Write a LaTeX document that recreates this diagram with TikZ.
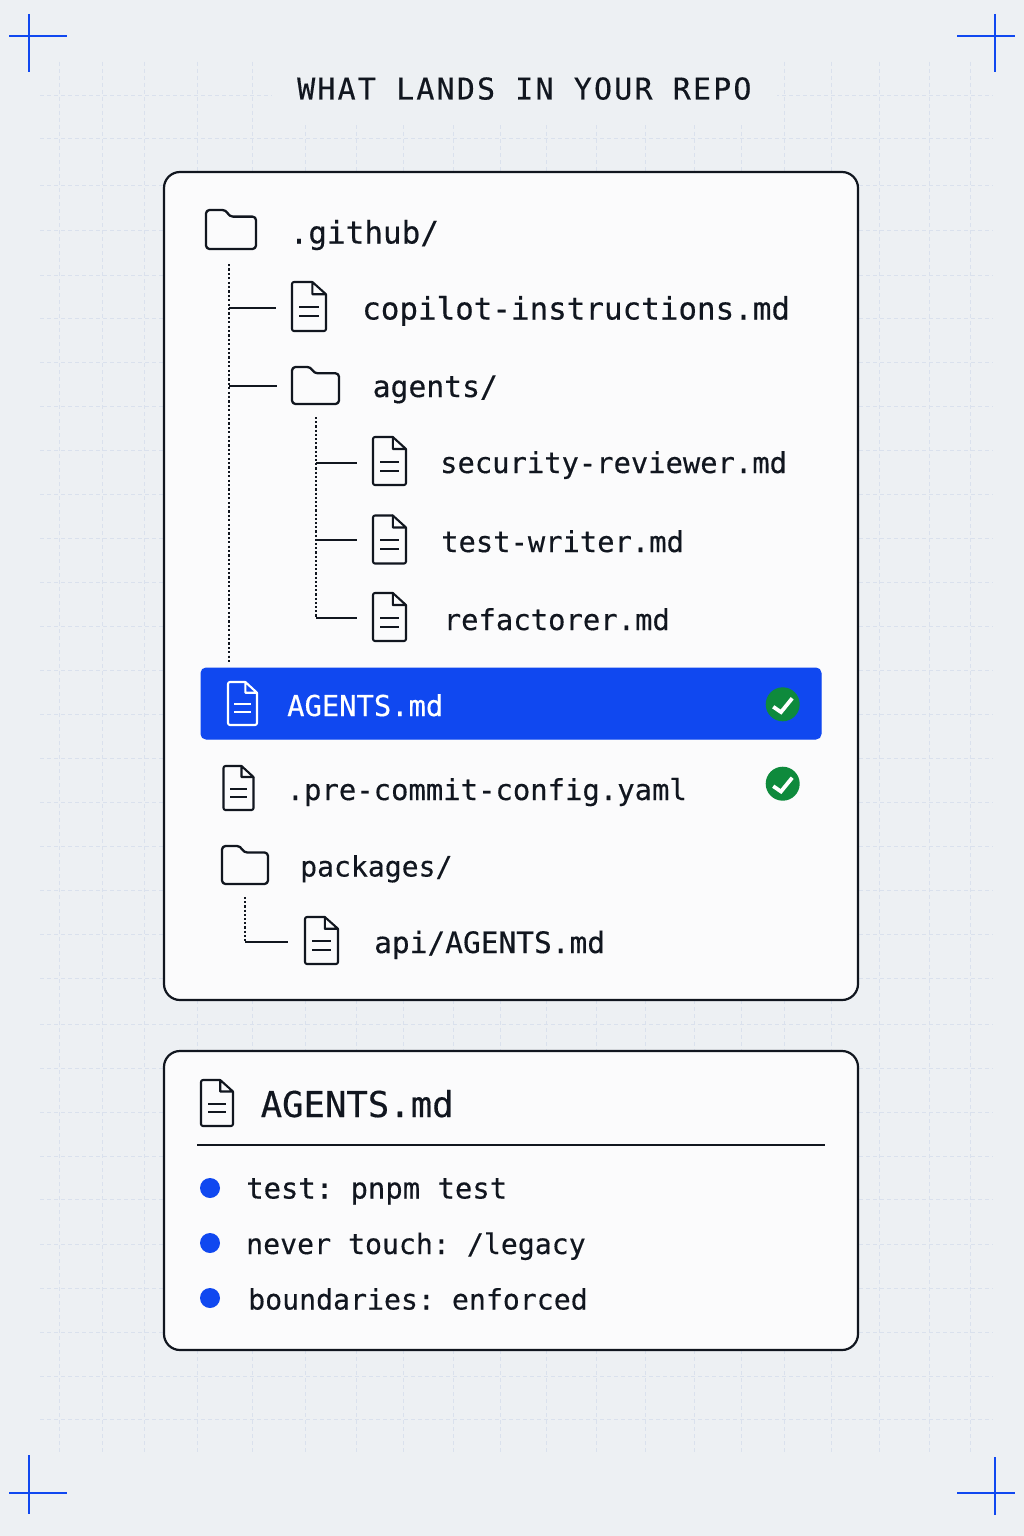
\documentclass[tikz,border=0pt]{standalone}
\usepackage{fontspec}
\setmainfont[FakeBold=0.35]{DejaVu Sans Mono}
\usetikzlibrary{positioning, calc}
\newcommand{\monosize}[1]{\fontsize{#1}{#1}\selectfont\frenchspacing}
\definecolor{pagebg}{HTML}{EDF0F3}
\definecolor{gridcol}{HTML}{DAE1ED}
\definecolor{panelbg}{HTML}{FBFBFC}
\definecolor{ink}{HTML}{11161F}
\definecolor{accent}{HTML}{1048F0}
\definecolor{okgreen}{HTML}{0E8A3C}
\tikzset{
	gridline/.style = {gridcol, line width=1pt, dash pattern=on 4pt off 3pt},
	markline/.style = {accent, line width=2.6pt},
	panel/.style = {draw=ink, fill=panelbg, line width=2.2pt, rounded corners=16pt},
	lbl/.style = {anchor=base west, inner sep=0pt, text=ink},
	trunk/.style = {ink, line width=1.9pt, dash pattern=on 2.2pt off 2.2pt},
	subtrunk/.style = {ink, line width=1.4pt, dash pattern=on 2.2pt off 2pt},
	branch/.style = {ink, line width=2pt},
	bullet/.style = {circle, fill=accent, inner sep=0pt, minimum size=20pt},
	badge/.style = {circle, fill=okgreen, inner sep=0pt, minimum size=34pt},
	pics/fileicon/.style 2 args = {code = {
		\node[inner sep=0pt, minimum width=#1pt, minimum height=#2pt] (-box) {};
		\draw[line width=2.1pt, rounded corners=2pt, line join=round]
			(-#1/2+0.6*#1,-#2/2) -- (-#1/2,-#2/2) -- (-#1/2,#2/2) -- (#1/2,#2/2) -- (#1/2,-#2/2+0.25*#2);
		\draw[line width=2.1pt, line join=round]
			(-#1/2+0.6*#1,-#2/2) -- (-#1/2+0.6*#1,-#2/2+0.25*#2) -- (#1/2,-#2/2+0.25*#2) -- cycle;
		\draw[line width=2pt] (-0.28*#1,0.02*#2) -- (0.28*#1,0.02*#2) (-0.28*#1,0.2*#2) -- (0.28*#1,0.2*#2);
	}},
	pics/foldericon/.style 2 args = {code = {
		\node[inner sep=0pt, minimum width=#1pt, minimum height=#2pt] (-box) {};
		\draw[line width=2.3pt, rounded corners=3.5pt, line join=round]
			(-#1/2,-#2/2) -- (-#1/2+0.4*#1,-#2/2) -- (-#1/2+0.47*#1,-#2/2+0.17*#2) -- (#1/2,-#2/2+0.17*#2)
			-- (#1/2,#2/2) -- (-#1/2,#2/2) -- cycle;
	}},
	pics/checkmark/.style = {code = {
		\draw[white, line width=3.8pt] (-9.5,2.5) -- (-1.7,7.8) -- (9.5,-6);
	}},
}
\begin{document}
\begin{tikzpicture}[x=1pt, y=-1pt, color=ink]
	\useasboundingbox (0,0) rectangle (1024,1536);
	\fill[pagebg] (0,0) rectangle (1024,1536);

	% grid
	\foreach \gx in {59,102,144,197,252,305,356,403,453,500,546,596,645,694,741,784,831,879,929,970}
		\draw[gridline] (\gx,62) -- (\gx,1453);
	\foreach \gy in {96,139,185,230,275,318,362,406,450,494,538,582,626,670,714,758,802,846,890,934,978,1024,1068,1112,1156,1199,1244,1288,1332,1376,1419}
		\draw[gridline] (40,\gy) -- (993,\gy);
	\fill[pagebg] (272,60) rectangle (777,125);

	% corner marks
	\draw[markline] (9,36) -- (67,36) (29,14) -- (29,72);
	\draw[markline] (957,36) -- (1015,36) (995,14) -- (995,72);
	\draw[markline] (9,1493) -- (67,1493) (29,1455) -- (29,1514);
	\draw[markline] (957,1493) -- (1015,1493) (995,1457) -- (995,1515);

	\node[lbl, font=\monosize{30}\addfontfeature{LetterSpace=7.2}] (title) at (297,99.5) {WHAT LANDS IN YOUR REPO};

	\draw[panel] (164,172) rectangle (858,1000);
	\draw[panel] (164,1051) rectangle (858,1350);

	% tree
	\pic (githubIcon) at (231,229.5) {foldericon={50}{39}};
	\node[lbl, font=\monosize{31}] (github) at (289.5,243.5) {.github/};
	\pic (copilotIcon) at (309,306.5) {fileicon={34}{49}};
	\node[lbl, font=\monosize{30.9}] (copilot) at (362,319.5) {copilot-instructions.md};
	\pic (agentsIcon) at (315.5,385.5) {foldericon={47}{37}};
	\node[lbl, font=\monosize{29.7}] (agents) at (372.5,397) {agents/};
	\pic (securityIcon) at (389.5,461) {fileicon={33}{48}};
	\node[lbl, font=\monosize{28.8}] (security) at (440,473) {security-reviewer.md};
	\pic (testIcon) at (389.5,539.5) {fileicon={33}{48}};
	\node[lbl, font=\monosize{28.8}] (testWriter) at (441,552) {test-writer.md};
	\pic (refactorIcon) at (389.5,617) {fileicon={33}{48}};
	\node[lbl, font=\monosize{28.9}] (refactorer) at (443.5,630) {refactorer.md};

	\coordinate (trunkTop) at (229,264);
	\coordinate (trunkEnd) at (229,662);
	\coordinate (subTop) at (316,417);
	\coordinate (subEnd) at (316,618);
	\draw[trunk] (trunkTop) -- (trunkEnd);
	\draw[subtrunk] (subTop) -- (subEnd);
	\draw[branch, shorten >=16pt] ($(trunkTop |- copilotIcon-box.west)+(0,1)$) -- ($(copilotIcon-box.west)+(0,1)$);
	\draw[branch, shorten >=15pt] ($(trunkTop |- agentsIcon-box.west)+(0,0.5)$) -- ($(agentsIcon-box.west)+(0,0.5)$);
	\draw[branch, shorten >=16pt] ($(subTop |- securityIcon-box.west)+(0,1.5)$) -- ($(securityIcon-box.west)+(0,1.5)$);
	\draw[branch, shorten >=16pt] ($(subTop |- testIcon-box.west)+(0,0.5)$) -- ($(testIcon-box.west)+(0,0.5)$);
	\draw[branch, shorten >=16pt] (subEnd) -- (subEnd -| refactorIcon-box.west);

	% highlighted row
	\draw[accent, fill=accent, line width=1pt, rounded corners=5pt] (201,668) rectangle (821,739);
	\pic[white] (agentsRowIcon) at (242.5,703.5) {fileicon={29}{43}};
	\node[lbl, text=white, font=\monosize{28.8}] (agentsRow) at (287,716) {AGENTS.md};
	\node[badge] (agentsOk) at (782.7,704.3) {};
	\pic at (agentsOk) {checkmark};

	\pic (preIcon) at (238.5,788) {fileicon={30}{44}};
	\node[lbl, font=\monosize{28.9}] (preCommit) at (286.5,800) {.pre-commit-config.yaml};
	\node[badge] (preOk) at (782.7,783.7) {};
	\pic at (preOk) {checkmark};

	\pic (packagesIcon) at (245,865) {foldericon={46}{38}};
	\node[lbl, font=\monosize{28.1}] (packages) at (300,876.5) {packages/};
	\pic (apiIcon) at (321.5,940.5) {fileicon={33}{47}};
	\node[lbl, font=\monosize{29.5}] (api) at (374,953) {api/AGENTS.md};
	\coordinate (apiTop) at (245,897);
	\draw[subtrunk] (apiTop) -- (apiTop |- apiIcon-box.west);
	\draw[branch, shorten >=17pt] ($(apiTop |- apiIcon-box.west)+(0,1)$) -- ($(apiIcon-box.west)+(0,1)$);

	% lower card
	\pic (cardIcon) at (217,1103) {fileicon={32}{46}};
	\node[lbl, font=\monosize{35.6}] (cardTitle) at (260.5,1117) {AGENTS.md};
	\draw[ink, line width=2pt] (197,1144.5) -- (825,1144.5);
	\node[bullet] (dotTest) at (210,1188) {};
	\node[lbl, font=\monosize{28.9}] (cardTest) at (246,1198.5) {test: pnpm test};
	\node[bullet] (dotNever) at (210,1243) {};
	\node[lbl, font=\monosize{28.2}] (cardNever) at (246,1254) {never touch: /legacy};
	\node[bullet] (dotBound) at (210,1298) {};
	\node[lbl, font=\monosize{28.2}] (cardBound) at (248,1309.5) {boundaries: enforced};
\end{tikzpicture}
\end{document}
